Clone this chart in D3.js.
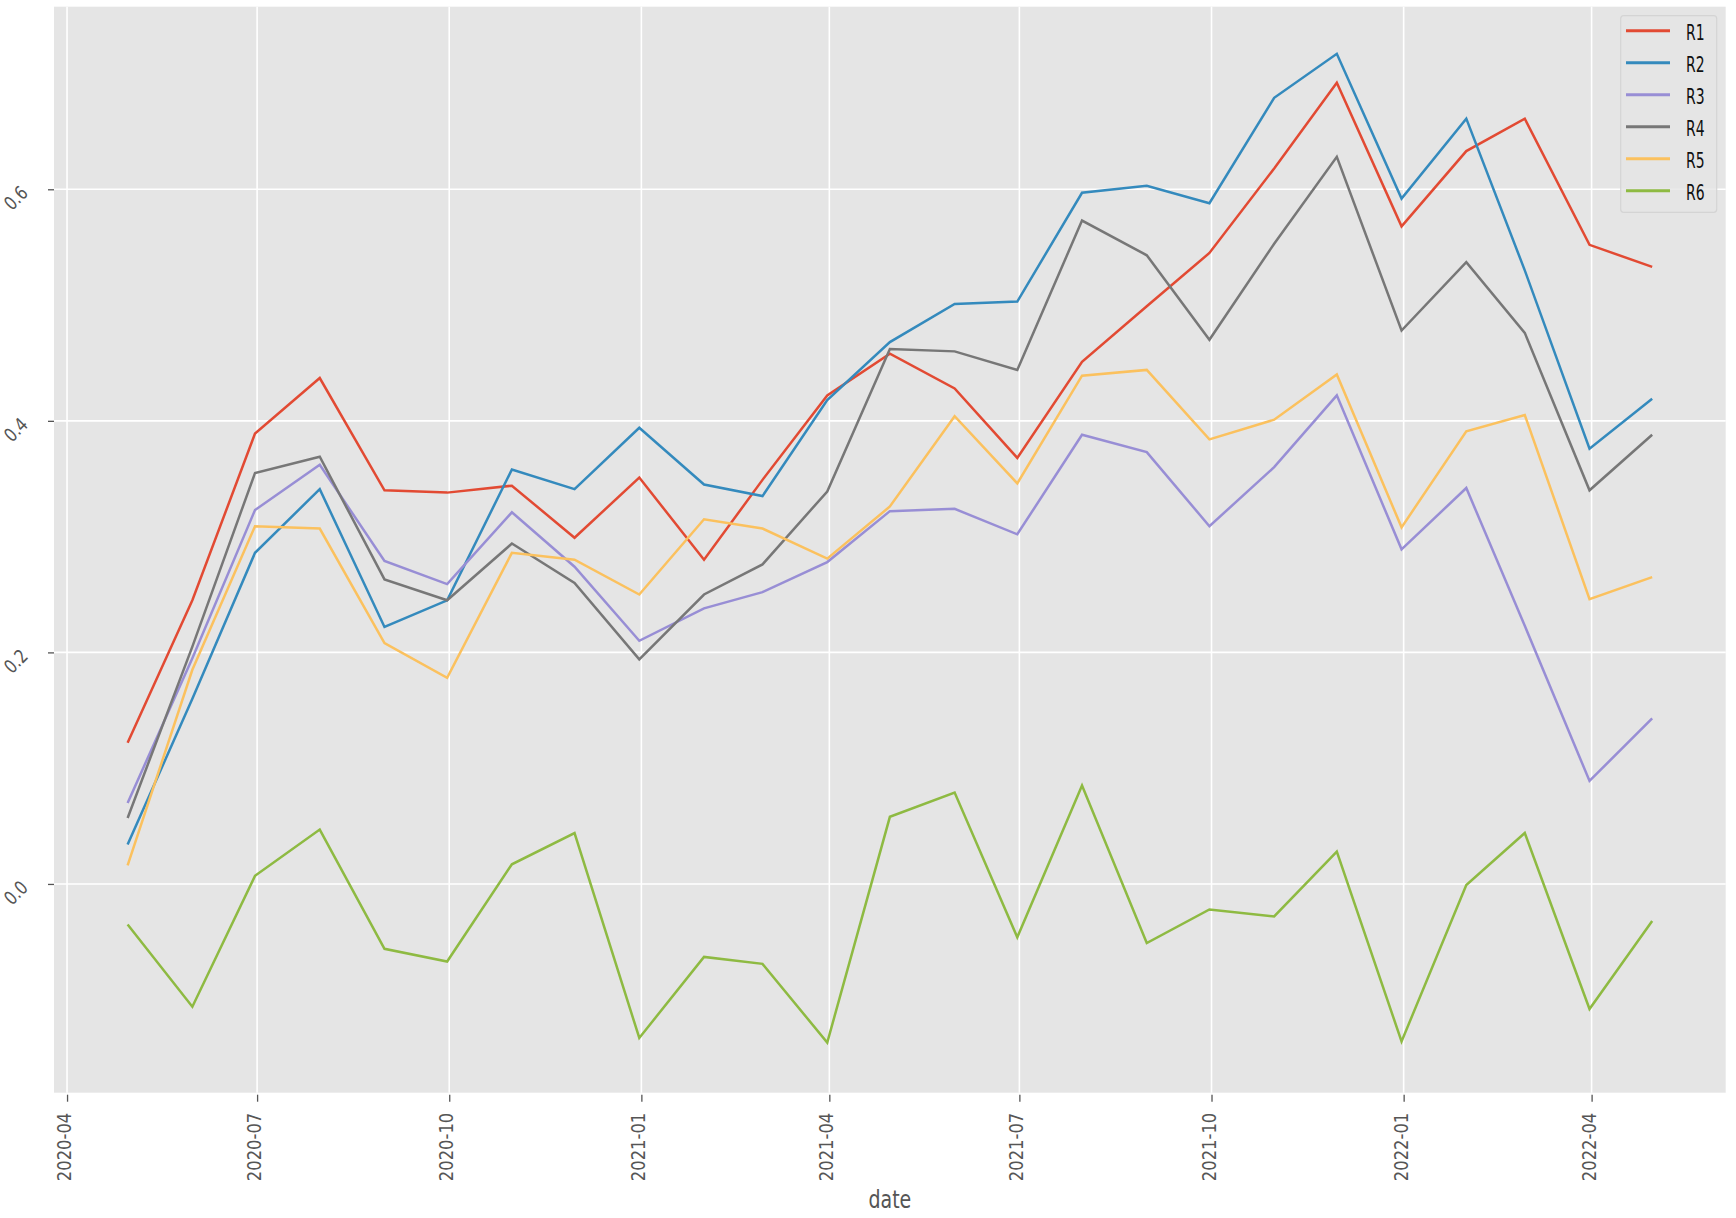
<!DOCTYPE html>
<html>
<head>
<meta charset="utf-8">
<script src="https://cdn.jsdelivr.net/npm/d3@7"></script>
<style>
  html, body { margin: 0; padding: 0; background: #ffffff; }
  svg { display: block; }
  text { font-family: "DejaVu Sans", sans-serif; }
</style>
</head>
<body>
<svg id="chart" width="1736" height="1218"></svg>
<script>
// ---------- data ----------
const dates = [
  "2020-04-30","2020-05-31","2020-06-30","2020-07-31","2020-08-31","2020-09-30",
  "2020-10-31","2020-11-30","2020-12-31","2021-01-31","2021-02-28","2021-03-31",
  "2021-04-30","2021-05-31","2021-06-30","2021-07-31","2021-08-31","2021-09-30",
  "2021-10-31","2021-11-30","2021-12-31","2022-01-31","2022-02-28","2022-03-31",
  "2022-04-30"
];
const seriesNames = ["R1","R2","R3","R4","R5","R6"];
const R1 = [0.122,0.245,0.389,0.437,0.340,0.338,0.344,0.299,0.351,0.280,0.349,0.422,0.458,0.428,0.368,0.451,0.499,0.545,0.618,0.692,0.568,0.633,0.661,0.552,0.533];
const R2 = [0.034,0.160,0.286,0.341,0.222,0.245,0.358,0.341,0.394,0.345,0.335,0.418,0.468,0.501,0.503,0.597,0.603,0.588,0.679,0.717,0.592,0.661,0.530,0.376,0.419];
const R3 = [0.070,0.195,0.323,0.362,0.279,0.259,0.321,0.274,0.210,0.238,0.252,0.278,0.322,0.324,0.302,0.388,0.373,0.309,0.360,0.422,0.289,0.342,0.223,0.089,0.143];
const R4 = [0.057,0.205,0.355,0.369,0.263,0.245,0.294,0.260,0.194,0.250,0.276,0.339,0.462,0.460,0.444,0.573,0.543,0.470,0.553,0.628,0.478,0.537,0.476,0.340,0.388];
const R5 = [0.016,0.185,0.309,0.307,0.208,0.178,0.286,0.280,0.250,0.315,0.307,0.281,0.326,0.404,0.346,0.439,0.444,0.384,0.401,0.440,0.308,0.391,0.405,0.246,0.265];
const R6 = [-0.035,-0.106,0.007,0.047,-0.056,-0.067,0.017,0.044,-0.133,-0.063,-0.069,-0.137,0.058,0.079,-0.046,0.085,-0.051,-0.022,-0.028,0.028,-0.136,-0.001,0.044,-0.108,-0.032];
const xTickLabels = ["2020-04","2020-07","2020-10","2021-01","2021-04","2021-07","2021-10","2022-01","2022-04"];
const yTickValues = [0.0, 0.2, 0.4, 0.6];
const xLabel = "date";

// ---------- layout / style ----------
const colors = ["#E24A33","#348ABD","#988ED5","#777777","#FBC15E","#8EBA42"];
const pLeft = 54, pTop = 6.7, pRight = 1725.7, pBottom = 1092.7;
const parse = d3.utcParse("%Y-%m-%d");
const parseMonth = d3.utcParse("%Y-%m");
const allSeries = [R1,R2,R3,R4,R5,R6];

const x = d3.scaleUtc()
  .domain([d3.utcHour.offset(parse("2020-04-01"), -150), d3.utcHour.offset(parse("2022-04-01"), 1541)])
  .range([pLeft, pRight]);
const y = d3.scaleLinear().domain([-0.1803, 0.7577]).range([pBottom, pTop]);

const svg = d3.select("#chart");

// background
svg.append("rect").attr("x", pLeft).attr("y", pTop)
  .attr("width", pRight - pLeft).attr("height", pBottom - pTop).attr("fill", "#E5E5E5");

// grid
const xTicks = xTickLabels.map(parseMonth);
const grid = svg.append("g");
grid.selectAll("line.v").data(xTicks).join("line").attr("class", "v")
  .attr("x1", d => x(d)).attr("x2", d => x(d)).attr("y1", pTop).attr("y2", pBottom)
  .attr("stroke", "#ffffff").attr("stroke-width", 1.6);
grid.selectAll("line.h").data(yTickValues).join("line").attr("class", "h")
  .attr("x1", pLeft).attr("x2", pRight).attr("y1", d => y(d)).attr("y2", d => y(d))
  .attr("stroke", "#ffffff").attr("stroke-width", 1.6);

// axes
const xAxis = d3.axisBottom(x).tickValues(xTicks).tickFormat(d3.utcFormat("%Y-%m")).tickSize(9).tickPadding(0);
const gx = svg.append("g").attr("transform", `translate(0,${pBottom})`).call(xAxis);
gx.select(".domain").remove();
gx.selectAll(".tick line").attr("y1", 2).attr("stroke", "#555555").attr("stroke-width", 1.3);
gx.selectAll(".tick text")
  .attr("x", null).attr("y", null).attr("dy", null)
  .attr("text-anchor", "end")
  .attr("font-size", 20)
  .attr("fill", "#555555")
  .attr("transform", "translate(3.5,20) rotate(-90) scale(0.82,1)");

const yAxis = d3.axisLeft(y).tickValues(yTickValues).tickFormat(d3.format(".1f")).tickSize(6).tickPadding(0);
const gy = svg.append("g").attr("transform", `translate(${pLeft},0)`).call(yAxis);
gy.select(".domain").remove();
gy.selectAll(".tick line").attr("stroke", "#555555").attr("stroke-width", 1.3);
gy.selectAll(".tick text")
  .attr("x", null).attr("y", null).attr("dy", null)
  .attr("text-anchor", "end")
  .attr("font-size", 19)
  .attr("fill", "#555555")
  .attr("transform", "translate(-25,4.5) rotate(-45) scale(0.8,1)");

// x label
svg.append("text")
  .attr("text-anchor", "middle")
  .attr("font-size", 25)
  .attr("fill", "#555555")
  .attr("transform", `translate(${(pLeft + pRight) / 2},1208) scale(0.76,1)`)
  .text(xLabel);

// lines
const line = d3.line().x(d => x(d[0])).y(d => y(d[1]));
const parsedDates = dates.map(parse);
svg.append("g").selectAll("path").data(allSeries).join("path")
  .attr("d", s => line(parsedDates.map((d, i) => [d, s[i]])))
  .attr("fill", "none")
  .attr("stroke", (s, i) => colors[i])
  .attr("stroke-width", 2.5)
  .attr("stroke-linejoin", "miter");

// legend
const lg = svg.append("g");
lg.append("rect").attr("x", 1620.7).attr("y", 15.7).attr("width", 96).attr("height", 196.6)
  .attr("rx", 3).attr("fill", "#E5E5E5").attr("fill-opacity", 0.8)
  .attr("stroke", "#d4d4d4").attr("stroke-width", 1.2);
const items = lg.selectAll("g.item").data(seriesNames).join("g").attr("class", "item")
  .attr("transform", (d, i) => `translate(0,${30.7 + i * 32})`);
items.append("line").attr("x1", 1626).attr("x2", 1670).attr("y1", 0).attr("y2", 0)
  .attr("stroke", (d, i) => colors[i]).attr("stroke-width", 3);
items.append("text")
  .attr("font-size", 21.5).attr("fill", "#111111")
  .attr("transform", "translate(1686,9.5) scale(0.65,1)")
  .text(d => d);
</script>
</body>
</html>
